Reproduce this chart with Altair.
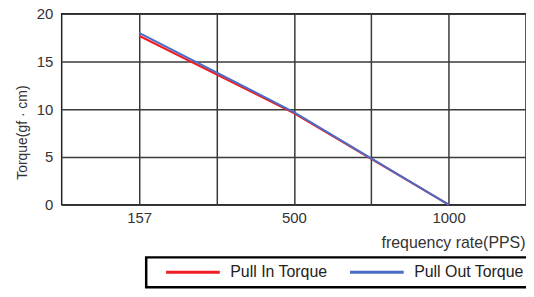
import altair as alt
import pandas as pd

freq = [157, 500, 1000]
pull_in = [17.7, 9.6, 0.0]
pull_out = [18.0, 9.7, 0.0]
series = ["Pull In Torque", "Pull Out Torque"]
colors = ["#ee1c25", "#4a6cc4"]
x_ticks = [157, 328.5, 500, 750, 1000]
y_ticks = [0, 5, 10, 15, 20]

rows = []
for f, a, b in zip(freq, pull_in, pull_out):
    rows.append({"freq": f, "torque": a, "series": series[0]})
    rows.append({"freq": f, "torque": b, "series": series[1]})
df = pd.DataFrame(rows)

W, H = 467, 192
FONT = "Liberation Sans, Arial, sans-serif"

label_expr = "indexof([157,500,1000], datum.value) >= 0 ? datum.label : ''"

chart = alt.Chart(df).mark_line(strokeWidth=2).encode(
    x=alt.X("freq:Q",
            scale=alt.Scale(domain=[0, 157, 500, 1000, 1250],
                            range=[0, W / 6, W / 2, 5 * W / 6, W]),
            axis=alt.Axis(values=x_ticks, labelExpr=label_expr, format="d",
                          title="frequency rate(PPS)", titleFontSize=16,
                          titleAnchor="end", titleAlign="right", titleX=W - 1,
                          ticks=False, domain=False, labelPadding=6, titlePadding=9,
                          gridColor="#3a3a3a", gridWidth=1.5, gridOpacity=1)),
    y=alt.Y("torque:Q", scale=alt.Scale(domain=[0, 20], nice=False),
            axis=alt.Axis(values=y_ticks, title="Torque(gf · cm)", titleFontSize=14,
                          ticks=False, domain=False,
                          labelPadding=9, titleAngle=270, titleX=-39, titleY=119,
                          titleBaseline="middle", titleAlign="center",
                          gridColor="#3a3a3a", gridWidth=1.5, gridOpacity=1)),
    color=alt.Color("series:N", scale=alt.Scale(domain=series, range=colors),
                    legend=alt.Legend(title=None, orient="none", direction="horizontal",
                                      legendX=85, legendY=245, symbolType="stroke",
                                      symbolSize=2916, symbolStrokeWidth=3, clipHeight=17,
                                      strokeColor="black", padding=6.5, columnPadding=9,
                                      symbolOffset=12,
                                      labelOffset=9, labelFontSize=16, labelFont=FONT,
                                      labelColor="#222")),
).properties(
    width=W, height=H,
    autosize=alt.AutoSizeParams(type="none"),
    padding={"left": 54, "top": 5, "right": 0, "bottom": 85},
).configure_view(
    stroke="#222", strokeWidth=1.5
).configure_axis(
    labelFont=FONT, titleFont=FONT, labelFontSize=15,
    labelColor="#333", titleColor="#333", titleFontWeight="normal"
).configure_legend(strokeWidth=2.5)

chart.save("out.html", embed_options={"renderer": "svg", "actions": False})
